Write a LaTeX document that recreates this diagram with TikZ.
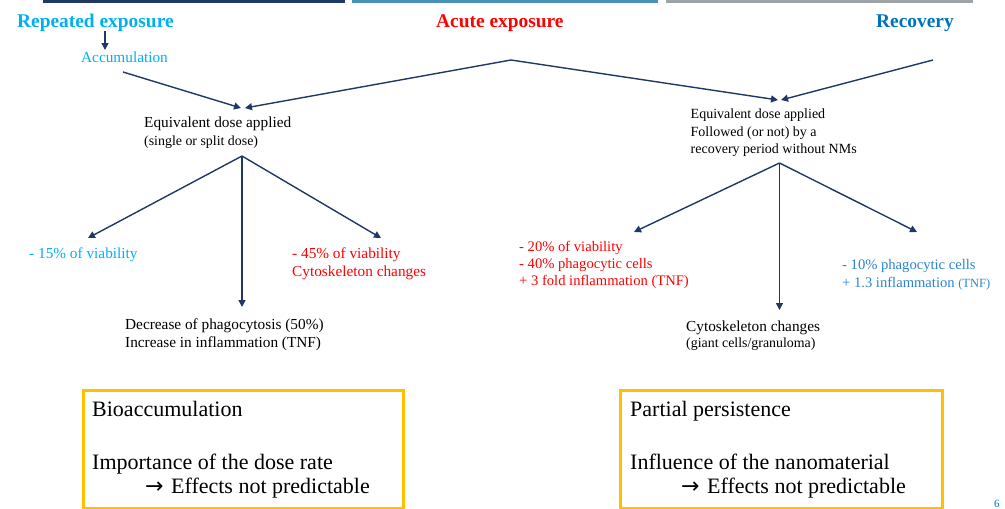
\documentclass[tikz,border=0pt]{standalone}
\usepackage{fontspec}
\setmainfont{Liberation Serif}
\newfontfamily\arrowfont{DejaVu Sans}
\usetikzlibrary{arrows.meta}
\definecolor{navy}{HTML}{1F3864}
\definecolor{cyanT}{HTML}{00B0F0}
\definecolor{redT}{HTML}{FF0000}
\definecolor{blueT}{HTML}{0070C0}
\definecolor{blueR}{HTML}{2A84D0}
\definecolor{gold}{HTML}{FFC000}
\definecolor{barblue}{HTML}{4A90B8}
\definecolor{bargray}{HTML}{9EA3A8}
\begin{document}
\begin{tikzpicture}[x=1pt,y=-1pt,
  txt/.style={anchor=base west, inner sep=0pt, font=\fontsize{15.3}{17}\selectfont},
  rtx/.style={anchor=base west, inner sep=0pt, font=\fontsize{14}{17}\selectfont},
  res/.style={anchor=base west, inner sep=0pt, font=\fontsize{14.6}{17}\selectfont},
  sm/.style={anchor=base west, inner sep=0pt, font=\fontsize{13.9}{16}\selectfont},
  ttl/.style={anchor=base west, inner sep=0pt, font=\fontsize{19.4}{22}\selectfont\bfseries},
  bx/.style={anchor=base west, inner sep=0pt, font=\fontsize{22}{26}\selectfont},
  conn/.style={draw=navy, line width=1.4pt, -{Triangle[length=7pt,width=7pt]}},
  goldbox/.style={draw=gold, line width=3pt, anchor=north west, inner sep=0pt}]
\useasboundingbox (0,0) rectangle (1005,509);
% top bars
\fill[navy] (43,0) rectangle (345,2.5);
\fill[barblue] (352,0) rectangle (658,2.5);
\fill[bargray] (666,0) rectangle (973,2.5);
% titles
\node[ttl, text=cyanT] (rep) at (17,27) {Repeated exposure};
\node[ttl, text=redT] (acu) at (436,27) {Acute exposure};
\node[ttl, text=blueT] (rec) at (876,27) {Recovery};
\node[txt, text=cyanT] (accu) at (81,62) {Accumulation};
% coordinates for connectors
\coordinate (repS) at (105,31);
\coordinate (repE) at (105,50);
\coordinate (accS) at (123,72);
\coordinate (ltipA) at (241,108);
\coordinate (ltipB) at (245,108);
\coordinate (apex) at (511,60);
\coordinate (rtipA) at (778,100);
\coordinate (rtipB) at (781,100);
\coordinate (recS) at (933,60);
\coordinate (lo) at (242,156);
\coordinate (lL) at (88,238);
\coordinate (lC) at (242,307);
\coordinate (lR) at (381,238);
\coordinate (ro) at (779.5,163);
\coordinate (rL) at (634,232);
\coordinate (rC) at (779.5,310);
\coordinate (rR) at (917,232);
% left branch texts
\node[txt] (leq1) at (144,127.5) {Equivalent dose applied};
\node[sm] (leq2) at (144,145.5) {(single or split dose)};
\node[txt, text=cyanT] (l15) at (29,258) {- 15\% of viability};
\node[txt, text=redT] (l45a) at (292,258) {- 45\% of viability};
\node[txt, text=redT] (l45b) at (292,276) {Cytoskeleton changes};
\node[txt] (ldec) at (125,329) {Decrease of phagocytosis (50\%)};
\node[txt] (linc) at (125,347) {Increase in inflammation (TNF)};
% right branch texts
\node[rtx] (req1) at (690.5,118) {Equivalent dose applied};
\node[rtx] (req2) at (690.5,136) {Followed (or not) by a};
\node[rtx] (req3) at (690.5,153) {recovery period without NMs};
\node[res, text=redT] (r20) at (519,251) {- 20\% of viability};
\node[res, text=redT] (r40) at (519,268) {- 40\% phagocytic cells};
\node[res, text=redT] (r3f) at (519,285.5) {+ 3 fold inflammation (TNF)};
\node[res, text=blueR] (r10) at (842,269) {- 10\% phagocytic cells};
\node[res, text=blueR] (r13) at (842,287) {+ 1.3 inflammation {\fontsize{12.5}{15}\selectfont(TNF)}};
\node[txt] (rcy1) at (686,331) {Cytoskeleton changes};
\node[sm] (rcy2) at (686,347.5) {(giant cells/granuloma)};
% connectors
\draw[conn] (repS) -- (repE);
\draw[conn] (accS) -- (ltipA);
\draw[conn] (apex) -- (ltipB);
\draw[conn] (apex) -- (rtipA);
\draw[conn] (recS) -- (rtipB);
\draw[conn] (lo) -- (lL);
\draw[conn] (lo) -- (lC);
\draw[conn] (lo) -- (lR);
\draw[conn] (ro) -- (rL);
\draw[conn] (ro) -- (rC);
\draw[conn] (ro) -- (rR);
% boxes
\node[goldbox, minimum width=320pt, minimum height=118pt] (box1) at (81.5,388.5) {};
\node[goldbox, minimum width=322pt, minimum height=118pt] (box2) at (618.5,388.5) {};
\node[bx] (b1a) at (92,416) {Bioaccumulation};
\node[bx] (b1b) at (92,469) {Importance of the dose rate};
\node[bx] (b1c) at (145,493) {{\arrowfont →}\hspace{7.5pt}Effects not predictable};
\node[bx] (b2a) at (630,416) {Partial persistence};
\node[bx] (b2b) at (630,469) {Influence of the nanomaterial};
\node[bx] (b2c) at (681,493) {{\arrowfont →}\hspace{7.5pt}Effects not predictable};
% page number
\node[anchor=base west, inner sep=0pt, text=blueT, font=\fontsize{11}{13}\selectfont] (pg) at (994,507) {6};
\end{tikzpicture}
\end{document}
